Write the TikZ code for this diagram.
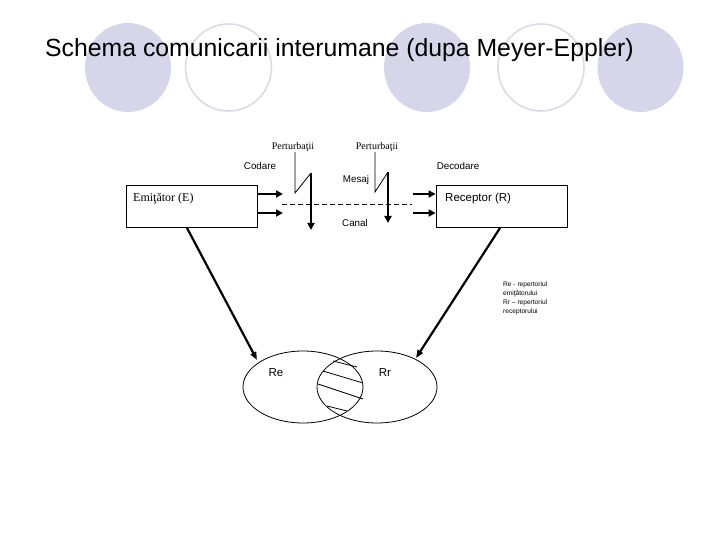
\documentclass[tikz,border=0pt]{standalone}
\usepackage{fontspec}
\setmainfont{Liberation Sans}
\newfontfamily\serifft{Liberation Serif}
\usetikzlibrary{arrows.meta}
\definecolor{decofill}{RGB}{214,214,234}
\definecolor{decoline}{RGB}{218,218,232}
\tikzset{
  decofilled/.style={fill=decofill, draw=none},
  decoopen/.style={draw=decoline, line width=1.6pt},
  boxnode/.style={draw=black, line width=0.8pt, minimum width=131pt, minimum height=42.5pt, inner sep=0pt},
  thickarrow/.style={line width=2.8pt, -{Triangle[length=7pt,width=7pt]}},
  diagarrow/.style={line width=2.2pt, -{Triangle[length=8pt,width=6pt]}},
  thinline/.style={line width=0.8pt},
  lbl/.style={inner sep=0pt, font=\fontsize{9.8}{11}\selectfont},
  pert/.style={inner sep=0pt, font=\serifft\fontsize{10}{11}\selectfont},
  venn/.style={draw=black, line width=0.8pt},
  legend/.style={inner sep=0pt, align=left, font=\fontsize{6.6}{8.7}\selectfont, anchor=north west}
}
\begin{document}
\begin{tikzpicture}[x=1pt,y=-1pt]
\useasboundingbox (0,0) rectangle (720,540);
% decorative ellipses
\fill[decofilled] (128,67.5) ellipse [x radius=43, y radius=44.5];
\draw[decoopen] (228.5,67.5) ellipse [x radius=43, y radius=43.5];
\fill[decofilled] (427,67.5) ellipse [x radius=43, y radius=44.5];
\draw[decoopen] (541,67.5) ellipse [x radius=43, y radius=43.5];
\fill[decofilled] (640.5,67.5) ellipse [x radius=43, y radius=44.5];
% title
\node[anchor=base west, inner sep=0pt, font=\fontsize{24.8}{28}\selectfont] (title) at (45,57) {Schema comunicarii interumane (dupa Meyer-Eppler)};
% boxes
\node[boxnode] (emit) at (191.5,206.5) {};
\node[anchor=base west, inner sep=0pt, font=\serifft\fontsize{12}{14}\selectfont] (emitT) at (133,202) {Emiţător (E)};
\node[boxnode] (rec) at (501.5,206.5) {};
\node[anchor=base west, inner sep=0pt, font=\fontsize{11.5}{13}\selectfont] (recT) at (445,202) {Receptor (R)};
% horizontal arrows
\coordinate (a1) at (283,194);
\coordinate (a2) at (283,213);
\coordinate (b1) at (413,194);
\coordinate (b2) at (413,213);
\draw[thickarrow] (emit.east |- a1) -- (a1);
\draw[thickarrow] (emit.east |- a2) -- (a2);
\draw[thickarrow] (b1) -- (rec.west |- b1);
\draw[thickarrow] (b2) -- (rec.west |- b2);
% dashed channel
\coordinate (d1) at (282,204);
\coordinate (d2) at (412,204);
\draw[thinline, dash pattern=on 5pt off 3pt] (d1) -- (d2);
% perturbations
\node[pert, anchor=base] (p1) at (293,150) {Perturbaţii};
\node[pert, anchor=base] (p2) at (377,150) {Perturbaţii};
\coordinate (z1a) at (295,193);
\coordinate (z1b) at (311,173);
\coordinate (z1c) at (311,230);
\draw[thinline] (295,152) -- (z1a) -- (z1b);
\draw[thickarrow] (z1b) -- (z1c);
\coordinate (z2a) at (375,192);
\coordinate (z2b) at (388,172);
\coordinate (z2c) at (388,223);
\draw[thinline] (375,152) -- (z2a) -- (z2b);
\draw[thickarrow] (z2b) -- (z2c);
% labels
\node[lbl] (cod) at (260,166) {Codare};
\node[lbl] (dec) at (458,166) {Decodare};
\node[lbl] (mes) at (356,180) {Mesaj};
\node[lbl] (can) at (355,223) {Canal};
% venn
\draw[venn] (303,387) ellipse [x radius=60, y radius=36];
\draw[venn] (377,387) ellipse [x radius=60, y radius=36];
\node[inner sep=0pt, font=\fontsize{11.5}{13}\selectfont] (re) at (276,373) {Re};
\node[inner sep=0pt, font=\fontsize{11.5}{13}\selectfont] (rr) at (385,373) {Rr};
\draw[thinline] (333,361) -- (357,367);
\draw[thinline] (323,371) -- (363,383);
\draw[thinline] (318,384) -- (363,399);
\draw[thinline] (327,406) -- (347,411);
% diagonal arrows
\coordinate (e1) at (187,228);
\coordinate (reTip) at (257,360);
\coordinate (r1) at (500,228);
\coordinate (rrTip) at (416,358);
\draw[diagarrow] (e1) -- (reTip);
\draw[diagarrow] (r1) -- (rrTip);
% legend
\node[legend] (leg) at (503,282) {Re - repertoriul\\emiţătorului\\Rr -- repertoriul\\receptorului};
\end{tikzpicture}
\end{document}
